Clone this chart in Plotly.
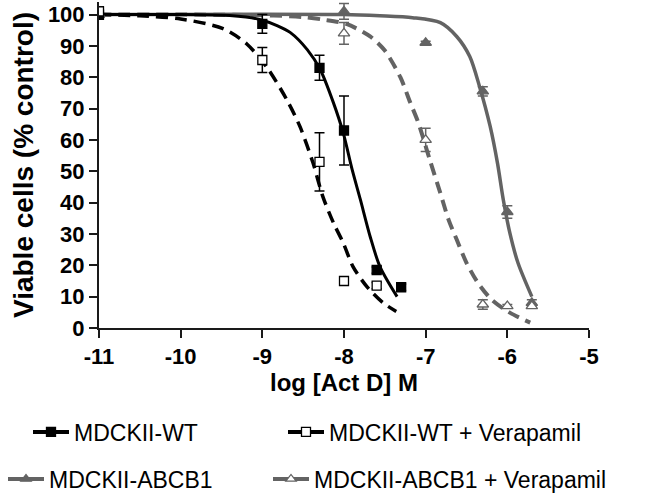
import plotly.graph_objects as go

# ---------------- data ----------------
log_conc = [-11, -9, -8.3, -8, -7.6, -7.3]
wt_y = [100, 97, 83, 63, 18.5, 13]
wt_err = [1.5, 3, 4, 11, 1, 1]

wtv_x = [-11, -9, -8.3, -8, -7.6]
wtv_y = [101, 85.5, 53, 15, 13.5]
wtv_err = [1.5, 4, 9.3, 1, 1]

abcb1_x = [-11, -8, -7, -6.3, -6, -5.7]
abcb1_y = [100, 101, 91, 75.5, 37, 8]
abcb1_err = [1, 2.5, 0.5, 1.5, 2, 1]

abcb1v_x = [-11, -8, -7, -6.3, -6, -5.7]
abcb1v_y = [100, 94, 60, 7.5, 7, 7]
abcb1v_err = [1, 3.5, 3.7, 1.5, 0.5, 0.5]

# fitted curves
wt_fit_x = [-11, -10, -9.4, -9.2, -9.0, -8.82, -8.66, -8.45, -8.29, -8.13, -8.01, -7.90, -7.80, -7.68, -7.56, -7.35]
wt_fit_y = [100, 100, 99.7, 99.2, 98.2, 96.5, 94.3, 88.8, 82.4, 71.9, 62.3, 50.5, 41, 29.2, 19.6, 10]

wtv_fit_x = [-11, -10.5, -10.0, -9.48, -9.19, -8.94, -8.70, -8.54, -8.38, -8.26, -8.13, -8.01, -7.89, -7.72, -7.52, -7.36]
wtv_fit_y = [100, 99.6, 98.6, 95.5, 90.6, 83, 72.8, 64.3, 52.7, 42, 33.6, 27.2, 19.6, 13.2, 8, 5.3]

abcb1_fit_x = [-11, -8, -7.56, -7.16, -6.82, -6.62, -6.46, -6.34, -6.21, -6.12, -6.05, -5.97, -5.87, -5.70]
abcb1_fit_y = [100, 100, 99.6, 99, 97.4, 93, 86.6, 77, 64.3, 52.5, 41, 30.4, 20.8, 10]

abcb1v_fit_x = [-11, -9, -8.5, -8.26, -7.97, -7.68, -7.50, -7.31, -7.19, -7.09, -6.95, -6.82, -6.72, -6.62, -6.50, -6.36, -6.19, -5.97, -5.72]
abcb1v_fit_y = [100, 99.8, 99.2, 98.4, 97, 93, 88.5, 80, 72, 65.5, 53.7, 43, 34.6, 28.2, 20.8, 14.4, 9, 4.9, 1.7]

x_ticks = [-11, -10, -9, -8, -7, -6, -5]
y_ticks = [0, 10, 20, 30, 40, 50, 60, 70, 80, 90, 100]

names = ["MDCKII-WT", "MDCKII-WT + Verapamil", "MDCKII-ABCB1", "MDCKII-ABCB1 + Verapamil"]

BLACK = "#000000"
GRAY = "#636363"
DASH = "12px,7px"

fig = go.Figure()

def curve(x, y, color, dash, width):
    fig.add_trace(go.Scatter(x=x, y=y, mode="lines", line=dict(color=color, width=width, dash=dash, shape="spline", smoothing=0.8),
                             showlegend=False, hoverinfo="skip"))

curve(abcb1_fit_x, abcb1_fit_y, GRAY, "solid", 3.5)
curve(abcb1v_fit_x, abcb1v_fit_y, GRAY, DASH, 4)
curve(wt_fit_x, wt_fit_y, BLACK, "solid", 3)
curve(wtv_fit_x, wtv_fit_y, BLACK, DASH, 3.5)

def pts(x, y, err, color, symbol, fill, size):
    fig.add_trace(go.Scatter(x=x, y=y, mode="markers",
                             marker=dict(symbol=symbol, size=size, color=fill, line=dict(color=color, width=1.3)),
                             error_y=dict(type="data", array=err, visible=True, color=color, thickness=1.5, width=5),
                             showlegend=False))

pts(abcb1_x, abcb1_y, abcb1_err, GRAY, "triangle-up", GRAY, 10)
pts(abcb1v_x, abcb1v_y, abcb1v_err, GRAY, "triangle-up", "white", 10)
pts(log_conc, wt_y, wt_err, BLACK, "square", BLACK, 9)
pts(wtv_x, wtv_y, wtv_err, BLACK, "square", "white", 9)

FONT = "Liberation Sans, Arial, sans-serif"

# legend entries: one legend per entry, placed like the reference
legend_specs = [
    (names[0], BLACK, "square", BLACK, "legend", 28, 432),
    (names[1], BLACK, "square", "white", "legend2", 283, 432),
    (names[2], GRAY, "triangle-up", GRAY, "legend3", 3, 479),
    (names[3], GRAY, "triangle-up", "white", "legend4", 268, 479),
]
legend_layout = {}
for nm, col, sym, fill, lg, px, py in legend_specs:
    fig.add_trace(go.Scatter(x=[None], y=[None], mode="lines+markers", name=nm, legend=lg,
                             line=dict(color=col, width=4),
                             marker=dict(symbol=sym, size=9, color=fill, line=dict(color=col, width=1.3))))
    legend_layout[lg] = dict(orientation="h", xref="container", yref="container",
                             x=px / 666, y=1 - py / 499, xanchor="left", yanchor="middle",
                             font=dict(size=23, family=FONT, color="black"),
                             itemwidth=36, bgcolor="rgba(0,0,0,0)", borderwidth=0)

fig.update_layout(
    width=666, height=499,
    margin=dict(l=99, r=77, t=2, b=171),
    plot_bgcolor="white", paper_bgcolor="white",
    font=dict(family=FONT, color="black"),
    xaxis=dict(range=[-11, -5], tickvals=x_ticks, ticktext=[str(v) for v in x_ticks],
               showgrid=False, zeroline=False, showline=True, linecolor="#1a1a1a", linewidth=2,
               ticks="outside", ticklen=8, tickwidth=2, tickcolor="#1a1a1a",
               tickfont=dict(size=22, family=FONT, weight="bold"),
               title=dict(text="<b>log [Act D] M</b>", font=dict(size=24), standoff=5)),
    yaxis=dict(range=[0, 104], tickvals=y_ticks, ticktext=[str(v) for v in y_ticks],
               showgrid=False, zeroline=False, showline=True, linecolor="#1a1a1a", linewidth=2,
               ticks="outside", ticklen=8, tickwidth=2, tickcolor="#1a1a1a",
               tickfont=dict(size=22, family=FONT, weight="bold"),
               title=dict(text="<b>Viable cells (% control)</b>", font=dict(size=28), standoff=6)),
    **legend_layout,
)

fig.write_html("out.html", config={"displayModeBar": False},
               post_script="document.body.style.margin='0';document.body.style.padding='0';")
